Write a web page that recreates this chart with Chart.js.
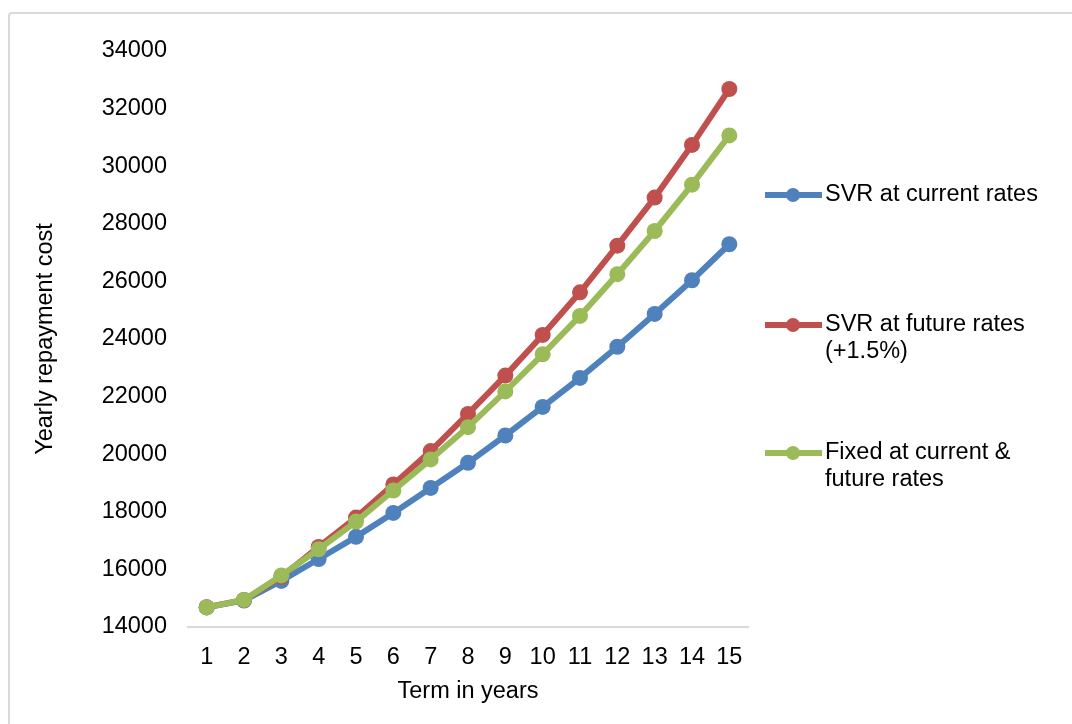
<!DOCTYPE html>
<html>
<head>
<meta charset="utf-8">
<title>Yearly repayment cost</title>
<script src="https://cdn.jsdelivr.net/npm/chart.js@4/dist/chart.umd.min.js"></script>
<style>
  html, body { margin: 0; padding: 0; background: #fff; }
  #wrap { width: 1072px; height: 724px; position: relative; }
</style>
</head>
<body>
<div id="wrap"><canvas id="myChart"></canvas></div>
<script>
// terms (years) and yearly repayment per scenario
var years = ['1', '2', '3', '4', '5', '6', '7', '8', '9', '10', '11', '12', '13', '14', '15'];
var svr_current = [14680, 14920, 15600, 16360, 17130, 17960, 18830, 19700, 20650, 21640, 22650, 23730, 24870, 26040, 27290];
var svr_future  = [14690, 14940, 15740, 16780, 17800, 18950, 20110, 21400, 22730, 24140, 25620, 27240, 28910, 30740, 32680];
var fixed_rates = [14680, 14940, 15790, 16700, 17660, 18740, 19820, 20940, 22180, 23470, 24800, 26250, 27750, 29360, 31070];

var y_min = 14000;
var y_max = 34000;
var y_step = 2000;

var legend_text = [
  ['SVR at current rates'],
  ['SVR at future rates', '(+1.5%)'],
  ['Fixed at current &', 'future rates']
];

var fuente = '"Liberation Sans", Arial, sans-serif';
var tam = 23.5;
Chart.defaults.font.family = fuente;
Chart.defaults.color = '#000';

// orden: la ultima serie queda dibujada encima
function serie(label, data, color, orden) {
  return {
    label: label,
    data: data,
    order: orden,
    borderColor: color,
    backgroundColor: color,
    pointBackgroundColor: color,
    pointBorderColor: color,
    borderWidth: 6,
    pointRadius: 8,
    pointBorderWidth: 0,
    tension: 0
  };
}

// marco gris alrededor del grafico
var marco = {
  id: 'marco',
  beforeDraw: function (chart) {
    var ctx = chart.ctx;
    ctx.save();
    ctx.strokeStyle = '#d9d9d9';
    ctx.lineWidth = 2;
    ctx.beginPath();
    ctx.moveTo(9, 740);
    ctx.lineTo(9, 16);
    ctx.arcTo(9, 13, 12, 13, 3);
    ctx.lineTo(1090, 13);
    ctx.stroke();
    ctx.restore();
  }
};

// leyenda a la derecha con textos en varias lineas
var leyenda = {
  id: 'leyenda',
  afterDraw: function (chart) {
    var ctx = chart.ctx;
    var tops = [195, 325, 453];
    ctx.save();
    chart.data.datasets.forEach(function (ds, i) {
      var y = tops[i];
      ctx.strokeStyle = ds.borderColor;
      ctx.lineWidth = 6;
      ctx.beginPath();
      ctx.moveTo(765, y);
      ctx.lineTo(822, y);
      ctx.stroke();
      ctx.fillStyle = ds.borderColor;
      ctx.beginPath();
      ctx.arc(793, y, 7, 0, Math.PI * 2);
      ctx.fill();
      ctx.fillStyle = '#000';
      ctx.font = tam + 'px ' + fuente;
      ctx.textBaseline = 'middle';
      ctx.textAlign = 'left';
      legend_text[i].forEach(function (t, j) {
        ctx.fillText(t, 825, y + j * 27);
      });
    });
    ctx.restore();
  }
};

var chart_line = new Chart(document.getElementById('myChart'), {
  type: 'line',
  data: {
    labels: years,
    datasets: [
      serie('SVR at current rates', svr_current, '#4F81BD', 2),
      serie('SVR at future rates (+1.5%)', svr_future, '#C0504D', 1),
      serie('Fixed at current & future rates', fixed_rates, '#9BBB59', 0)
    ]
  },
  options: {
    responsive: true,
    maintainAspectRatio: false,
    animation: false,
    layout: { padding: { left: 21, top: 51, right: 324, bottom: 0 } },
    plugins: {
      legend: { display: false },
      tooltip: { enabled: false }
    },
    scales: {
      x: {
        offset: true,
        grid: { display: false, drawTicks: false, offset: true },
        border: { display: true, color: '#d9d9d9', width: 2 },
        ticks: { font: { size: tam }, padding: 16, maxRotation: 0, autoSkip: false },
        title: { display: true, text: 'Term in years', font: { size: tam, lineHeight: 1.2 }, padding: { top: 0, bottom: 18 } },
        afterFit: function (s) { s.height = 97; }
      },
      y: {
        min: y_min,
        max: y_max,
        grid: { display: false, drawTicks: false },
        border: { display: false },
        ticks: {
          stepSize: y_step,
          font: { size: tam },
          padding: 21,
          callback: function (v) { return String(v); }
        },
        title: { display: true, text: 'Yearly repayment cost', font: { size: tam, lineHeight: 1.2 }, padding: { top: 10, bottom: 0 } },
        afterFit: function (s) { s.width = 167; }
      }
    }
  },
  plugins: [marco, leyenda]
});
</script>
</body>
</html>
